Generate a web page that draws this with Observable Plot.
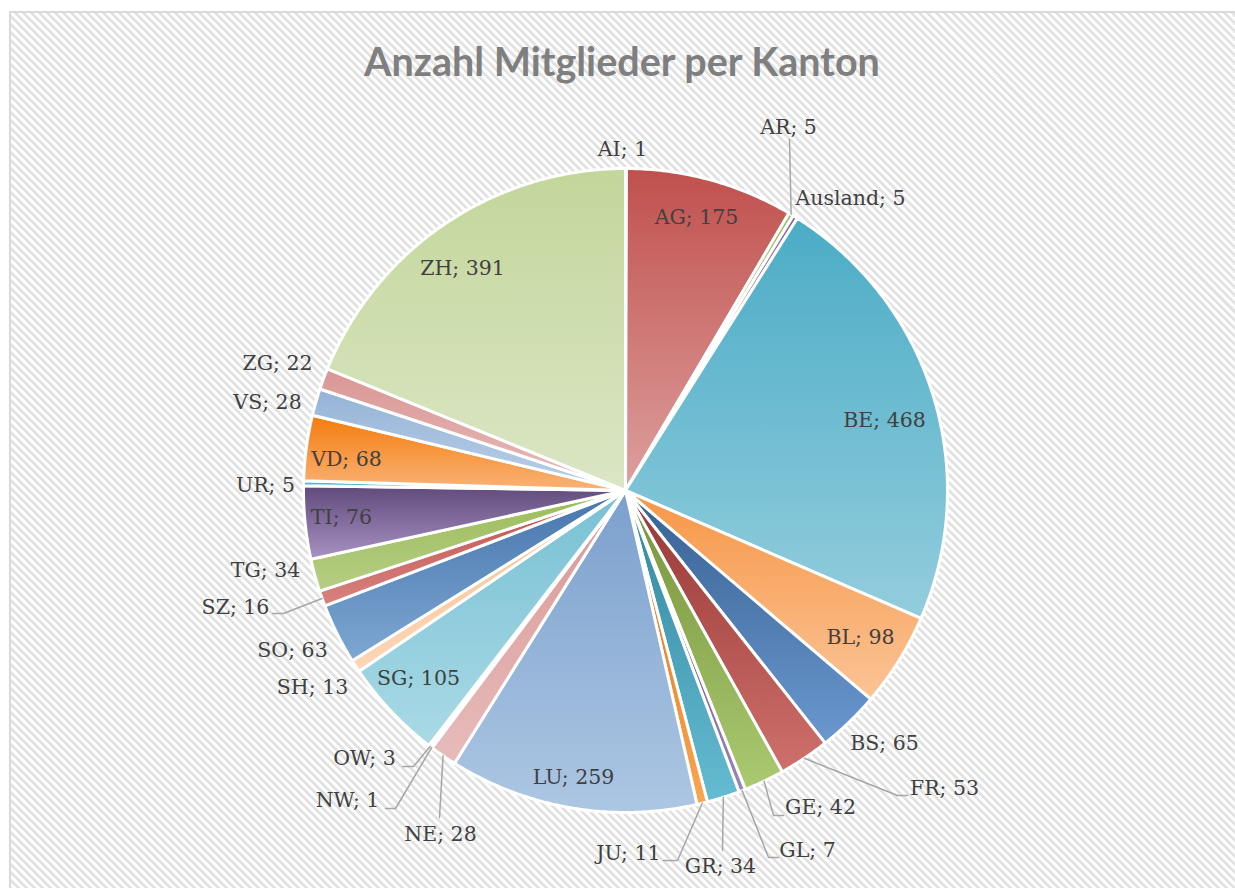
<!DOCTYPE html>
<html><head><meta charset="utf-8">
<script src="https://cdn.jsdelivr.net/npm/d3@7"></script>
<script src="https://cdn.jsdelivr.net/npm/@observablehq/plot@0.6"></script>
<style>
html,body{margin:0;padding:0;background:#fff;overflow:hidden;}
#wrap{position:relative;width:1235px;height:888px;overflow:hidden;}
#bg{position:absolute;left:9px;top:11px;width:1240px;height:890px;border:2px solid #d9d9d9;box-sizing:border-box;
background:repeating-linear-gradient(45deg,#e3e3e3 0px,#e3e3e3 2.83px,#ffffff 2.83px,#ffffff 5.66px);}
#title{position:absolute;left:0;width:1244px;top:41px;text-align:center;font-family:Lato;font-weight:bold;font-size:39.5px;color:#7f7f7f;line-height:39px;}
#chart{position:absolute;left:0;top:0;}
</style></head><body>
<div id="wrap"><div id="bg"></div><div id="title">Anzahl Mitglieder per Kanton</div><div id="chart"></div></div>
<script>
// ---- data ----
const cantons = ["AI","AG","AR","Ausland","BE","BL","BS","FR","GE","GL","GR","JU","LU","NE","NW","OW","SG","SH","SO","SZ","TG","TI","UR","VD","VS","ZG","ZH"];
const members = [1,175,5,5,468,98,65,53,42,7,34,11,259,28,1,3,105,13,63,16,34,76,5,68,28,22,391];

// ---- styles (gradient top / bottom colours per slice) ----
const topColors = ["#4f81bd","#c0504d","#9bbb59","#8064a2","#4bacc6","#f79646","#376092","#943634","#76923c","#5f497a","#31859c","#e46c0a","#7ba0cd","#d99694","#c3d69b","#b2a1c7","#78c0d4","#fac090","#4675ad","#c0504d","#9bbb59","#604a7b","#4bacc6","#f47c0d","#95b3d7","#d99694","#c3d69b"];
const bottomColors = ["#95b3d7","#dda09e","#c3d69b","#b2a1c7","#93cddd","#fbc497","#6a98cf","#d0706c","#aac970","#9a84b8","#65bcd2","#f9a552","#adc7e3","#e7bcbb","#d9e5bf","#cdc3db","#aadae6","#fcd6b7","#7ea7d2","#d8827f","#b6ce84","#a792c3","#82c6d8","#fab377","#bad0e8","#e8bcbb","#dbe6c5"];

// ---- layout: label offsets from pie centre (px), leader elbow/end points ----
const R = 322;
const labelOffsets = [[-3,-341],[71,-273],[163,-363],[225,-292],[259,-70],[235,147],[259,253],[319,298],[195,317],[182,360],[95,376],[3,363],[-52,287],[-185,344],[-278,310],[-261,268],[-207,188],[-313,197],[-333,160],[-390,117],[-360,80],[-284,27],[-360,-5],[-279,-31],[-358,-88],[-348,-127],[-163,-222]];
const leaders = {
  AR: [[164,-351],[164,-351]],
  FR: [[272,305],[282,305]],
  GE: [[148,325],[158,325]],
  GL: [[143,367],[153,367]],
  GR: [[97,360],[97,360]],
  JU: [[52,370],[38,370]],
  NE: [[-186,327],[-186,327]],
  NW: [[-230,318],[-240,318]],
  OW: [[-212,276],[-223,276]],
  SZ: [[-342,123],[-353,123]]
};

// ---- geometry from the values ----
const arcs = d3.pie().sort(null).value(d => d)(members);
const sliceRows = [];
arcs.forEach((p, i) => {
  const a0 = p.startAngle, a1 = p.endAngle;
  const n = Math.max(2, Math.ceil((a1 - a0) / (Math.PI / 360)));
  sliceRows.push({k: i, x: 0, y: 0});
  for (let j = 0; j <= n; j++) {
    const a = a0 + (a1 - a0) * j / n;
    sliceRows.push({k: i, x: R * Math.sin(a), y: -R * Math.cos(a)});
  }
});
const labelRows = cantons.map((c, i) => ({x: labelOffsets[i][0], y: labelOffsets[i][1], t: `${c}; ${members[i]}`}));
const leaderRows = [];
Object.entries(leaders).forEach(([c, pts]) => {
  const i = cantons.indexOf(c);
  const mid = (arcs[i].startAngle + arcs[i].endAngle) / 2;
  leaderRows.push({k: c, x: R * Math.sin(mid), y: -R * Math.cos(mid)});
  pts.forEach(p => leaderRows.push({k: c, x: p[0], y: p[1]}));
});

const chart = Plot.plot({
  width: 1235, height: 888,
  margin: 0,
  style: {background: "transparent"},
  x: {domain: [-625, 610], range: [0, 1235], axis: null},
  y: {domain: [-490, 398], range: [0, 888], axis: null},
  color: {type: "identity"},
  marks: [
    Plot.line(sliceRows, {x: "x", y: "y", z: "k", fill: d => `url(#g${d.k})`, stroke: "white", strokeWidth: 3, strokeLinejoin: "round", curve: "linear-closed"}),
    Plot.line(leaderRows, {x: "x", y: "y", z: "k", stroke: "#a6a6a6", strokeWidth: 1.5, curve: "linear"}),
    Plot.text(labelRows, {x: "x", y: "y", text: "t", fontFamily: "DejaVu Serif", fontSize: 20.5, fill: "#404040"})
  ]
});
const svg = d3.select(chart);
const defs = svg.insert("defs", ":first-child");
cantons.forEach((c, i) => {
  const g = defs.append("linearGradient").attr("id", "g" + i).attr("x1", 0).attr("y1", 0).attr("x2", 0).attr("y2", 1);
  g.append("stop").attr("offset", 0).attr("stop-color", topColors[i]);
  g.append("stop").attr("offset", 1).attr("stop-color", bottomColors[i]);
});
document.getElementById("chart").appendChild(chart);
</script>
</body></html>
